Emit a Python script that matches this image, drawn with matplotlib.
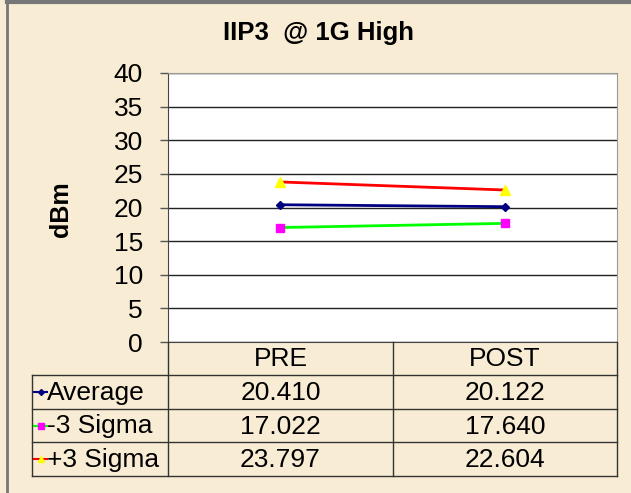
import matplotlib.pyplot as plt
import numpy as np

# data
categories = ['PRE', 'POST']
series_names = ['Average', '-3 Sigma', '+3 Sigma']
average = [20.410, 20.122]
minus3 = [17.022, 17.640]
plus3 = [23.797, 22.604]
yticks = [0, 5, 10, 15, 20, 25, 30, 35, 40]

W, H = 631, 493
bg = '#F8EDD4'
plt.rcParams['font.family'] = ['Liberation Sans', 'DejaVu Sans']

fig = plt.figure(figsize=(W / 100, H / 100), dpi=100, facecolor=bg)

def fx(px):
    return px / W

def fy(py):
    return 1 - py / H

# plot area in pixel terms
L, R, T, B = 168, 617, 73, 342
ax = fig.add_axes([fx(L), fy(B), fx(R) - fx(L), fy(T) - fy(B)])
ax.set_facecolor('white')
ax.set_xlim(-0.5, 1.5)
ax.set_ylim(0, 40)
ax.set_yticks(yticks)
ax.set_yticklabels([str(v) for v in yticks], fontsize=19)
ax.set_xticks([])
ax.tick_params(axis='y', direction='out', length=6, width=1, color='#555555', pad=12)
ax.yaxis.grid(True, color='#222222', linewidth=1)
ax.set_axisbelow(True)
for s in ['top', 'right']:
    ax.spines[s].set_color('#999999')
ax.spines['left'].set_color('#444444')
ax.spines['bottom'].set_color('#444444')

x = np.arange(len(categories))
styles = [
    (average, '#000080', '#000080', 'D', 4.5),
    (minus3, '#00FF00', '#FF00FF', 's', 6),
    (plus3, '#FF0000', '#FFFF00', '^', 6.5),
]
for vals, lc, mc, mk, ms in styles:
    ax.plot(x, vals, color=lc, linewidth=2, marker=mk, markersize=ms,
            markerfacecolor=mc, markeredgecolor=mc, zorder=3)

fig.text(fx(61), fy(209), 'dBm', rotation=90, ha='center', va='center',
         fontsize=18, fontweight='bold')
fig.text(fx(319), fy(33), 'IIP3  @ 1G High', ha='center', va='center',
         fontsize=18.5, fontweight='bold')

# data table drawn on an overlay in pixel coords
ov = fig.add_axes([0, 0, 1, 1], facecolor='none')
ov.set_xlim(0, W)
ov.set_ylim(H, 0)
ov.axis('off')

# outer chart border (top/left)
ov.plot([7, W], [2, 2], color='#777777', linewidth=3)
ov.plot([7, 7], [2, H], color='#777777', linewidth=2)

tab_left = 32
col_x = [L, 393, R]
row_y = [B, 375, 409, 442, 476]
lc_tab = '#333333'
for yy in row_y[1:]:
    ov.plot([tab_left, R], [yy, yy], color=lc_tab, linewidth=1)
for xx in col_x:
    ov.plot([xx, xx], [B, row_y[-1]], color=lc_tab, linewidth=1)
ov.plot([tab_left, tab_left], [row_y[1], row_y[-1]], color=lc_tab, linewidth=1)

centers = [(col_x[i] + col_x[i + 1]) / 2 for i in range(len(categories))]
for cx, cat in zip(centers, categories):
    ov.text(cx, (row_y[0] + row_y[1]) / 2 + 1, cat, ha='center', va='center', fontsize=19)

all_vals = [average, minus3, plus3]
for r, (name, vals, st) in enumerate(zip(series_names, all_vals, styles)):
    yc = (row_y[r + 1] + row_y[r + 2]) / 2
    _, lcol, mcol, mk, ms = st
    ov.plot([tab_left + 2, tab_left + 15], [yc, yc], color=lcol, linewidth=1.5)
    ov.plot([tab_left + 8.5], [yc], marker=mk, markersize=ms - 1.5, color=mcol,
            markeredgecolor=mcol)
    ov.text(tab_left + 15, yc + 1, name, ha='left', va='center', fontsize=19)
    for cx, v in zip(centers, vals):
        ov.text(cx, yc + 1, f'{v:.3f}', ha='center', va='center', fontsize=19)

fig.savefig('out.png', dpi=100, facecolor=bg)
